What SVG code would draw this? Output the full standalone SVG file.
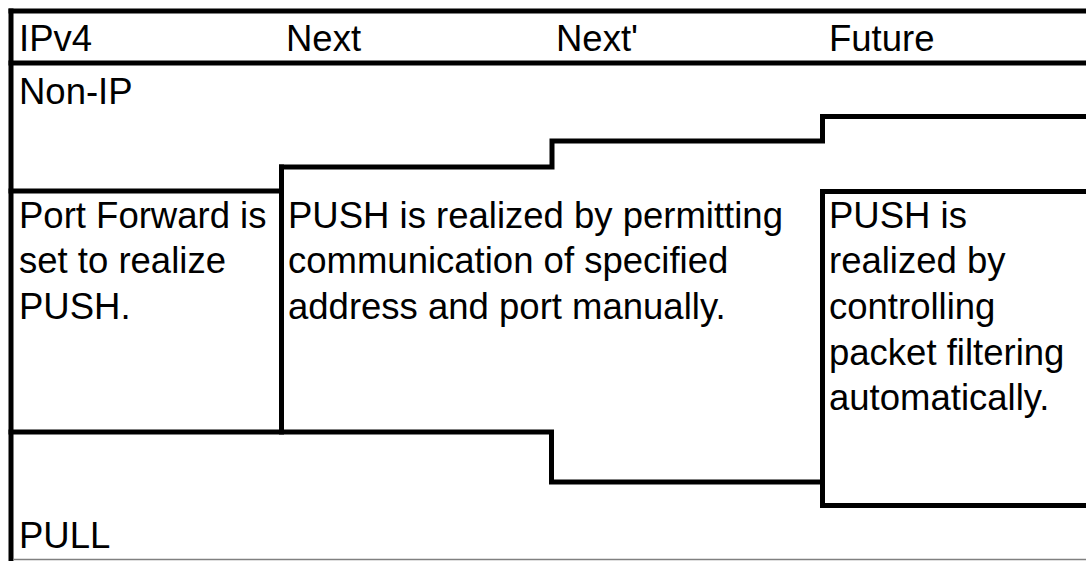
<svg xmlns="http://www.w3.org/2000/svg" width="1086" height="561" viewBox="0 0 1086 561">
<style>
  .t { font-family: "Liberation Sans", Arial, sans-serif; font-size: 36.5px; fill: #000; }
  .ln { fill: none; stroke: #000; stroke-width: 5; stroke-linecap: square; stroke-linejoin: miter; }
  .thin { fill: none; stroke: #808080; stroke-width: 1.5; }
</style>
<rect x="0" y="0" width="1086" height="561" fill="#fff"/>
<g id="connectors">
  <path class="ln" d="M11,11 H1090"/>
  <path class="ln" d="M11,11 V563"/>
  <path class="ln" d="M11,63 H1090"/>
  <path class="ln" d="M11,191 H281.5 V167 H552 V141 H822.5 V116.5 H1090"/>
  <path class="ln" d="M1090,191.5 H822.5 V505.5 H1090"/>
  <path class="ln" d="M281.5,167 V432"/>
  <path class="ln" d="M11,432 H551.5 V482 H822.5"/>
  <path class="thin" d="M13,559.5 H1086"/>
</g>
<g id="header-ipv4"><text class="t" x="19" y="51">IPv4</text></g>
<g id="header-next"><text class="t" x="286" y="51">Next</text></g>
<g id="header-next2"><text class="t" x="556" y="51">Next'</text></g>
<g id="header-future"><text class="t" x="829" y="51">Future</text></g>
<g id="non-ip"><text class="t" x="19" y="104">Non-IP</text></g>
<g id="port-forward">
  <text class="t" x="19" y="228">Port Forward is</text>
  <text class="t" x="19" y="273">set to realize</text>
  <text class="t" x="19" y="319">PUSH.</text>
</g>
<g id="push-manual">
  <text class="t" x="288" y="228">PUSH is realized by permitting</text>
  <text class="t" x="288" y="273">communication of specified</text>
  <text class="t" x="288" y="319">address and port manually.</text>
</g>
<g id="push-auto">
  <text class="t" x="829" y="228">PUSH is</text>
  <text class="t" x="829" y="273">realized by</text>
  <text class="t" x="829" y="319">controlling</text>
  <text class="t" x="829" y="365">packet filtering</text>
  <text class="t" x="829" y="410">automatically.</text>
</g>
<g id="pull"><text class="t" x="19" y="548">PULL</text></g>
</svg>
